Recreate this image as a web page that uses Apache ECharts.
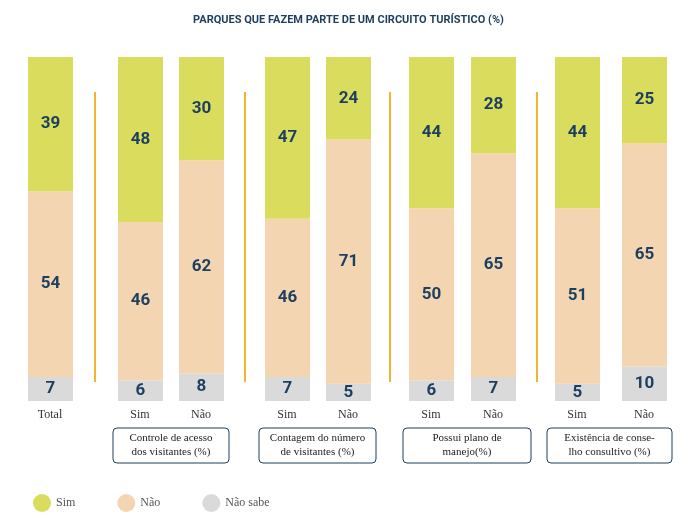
<!DOCTYPE html>
<html>
<head>
<meta charset="utf-8">
<script src="https://cdn.jsdelivr.net/npm/echarts@6/dist/echarts.min.js"></script>
<style>html,body{margin:0;padding:0;background:#fff}#chart{width:697px;height:520px}</style>
</head>
<body>
<div id="chart"></div>
<script>
// bar centres (pixel positions) and labels
const barX = [50, 140, 201, 287, 348, 431, 493, 577, 644];
const barLabels = ['Total', 'Sim', 'Não', 'Sim', 'Não', 'Sim', 'Não', 'Sim', 'Não'];
const simValues = [39, 48, 30, 47, 24, 44, 28, 44, 25];
const naoValues = [54, 46, 62, 46, 71, 50, 65, 51, 65];
const naoSabeValues = [7, 6, 8, 7, 5, 6, 7, 5, 10];
const groupTitles = ['Controle de acesso\ndos visitantes (%)', 'Contagem do número\nde visitantes (%)', 'Possui plano de\nmanejo(%)', 'Existência de conse-\nlho consultivo (%)'];
const groupBoxes = [[113, 229], [259, 376], [403, 531], [547, 672]];
const separators = [95, 245, 390, 537];

const navy = '#1c3f5f';
const W = 697;
const chart = echarts.init(document.getElementById('chart'));

// one category per pixel column so bars land at their positions
const slots = Array.from({ length: W }, (_, i) => String(i));
function spread(vals) {
  const arr = Array(W).fill('-');
  vals.forEach((v, i) => { arr[barX[i]] = v; });
  return arr;
}

const label = {
  show: true,
  color: navy,
  fontFamily: 'Roboto',
  fontWeight: 'bold',
  fontSize: 17
};

const graphics = [];
separators.forEach(x => graphics.push({
  type: 'line', shape: { x1: x, y1: 92, x2: x, y2: 382 },
  style: { stroke: '#f4b331', lineWidth: 2 }
}));
barX.forEach((x, i) => graphics.push({
  type: 'text', x: x, y: 409,
  style: { text: barLabels[i], fill: '#333', font: '12px "Liberation Serif"', align: 'center' }
}));
groupBoxes.forEach((b, i) => {
  graphics.push({
    type: 'rect', shape: { x: b[0], y: 428, width: b[1] - b[0], height: 35, r: 4 },
    style: { fill: 'none', stroke: navy, lineWidth: 1 }
  });
  graphics.push({
    type: 'text', x: (b[0] + b[1]) / 2, y: 445,
    style: { text: groupTitles[i], fill: '#222', font: '11px "Liberation Serif"', align: 'center', verticalAlign: 'middle', lineHeight: 14 }
  });
});

chart.setOption({
  animation: false,
  title: {
    text: 'PARQUES QUE FAZEM PARTE DE UM CIRCUITO TURÍSTICO (%)',
    left: 'center', top: 10,
    textStyle: { color: navy, fontFamily: 'Roboto', fontWeight: 'bold', fontSize: 11 }
  },
  legend: {
    left: 28, top: 489, icon: 'circle', itemWidth: 18, itemHeight: 18, itemGap: 42,
    textStyle: { color: '#555', fontFamily: 'Liberation Serif', fontSize: 12 },
    data: ['Sim', 'Não', 'Não sabe']
  },
  grid: { left: 0, right: 0, top: 57, bottom: 119 },
  xAxis: { type: 'category', data: slots, show: false },
  yAxis: { type: 'value', min: 0, max: 100, show: false },
  series: [
    { name: 'Não sabe', type: 'bar', stack: 'a', barWidth: 45, data: spread(naoSabeValues), itemStyle: { color: '#dadada' }, label: label },
    { name: 'Não', type: 'bar', stack: 'a', barWidth: 45, data: spread(naoValues), itemStyle: { color: '#f4d5b2' }, label: label },
    { name: 'Sim', type: 'bar', stack: 'a', barWidth: 45, data: spread(simValues), itemStyle: { color: '#d9dc5d' }, label: label }
  ],
  graphic: graphics
});
</script>
</body>
</html>
